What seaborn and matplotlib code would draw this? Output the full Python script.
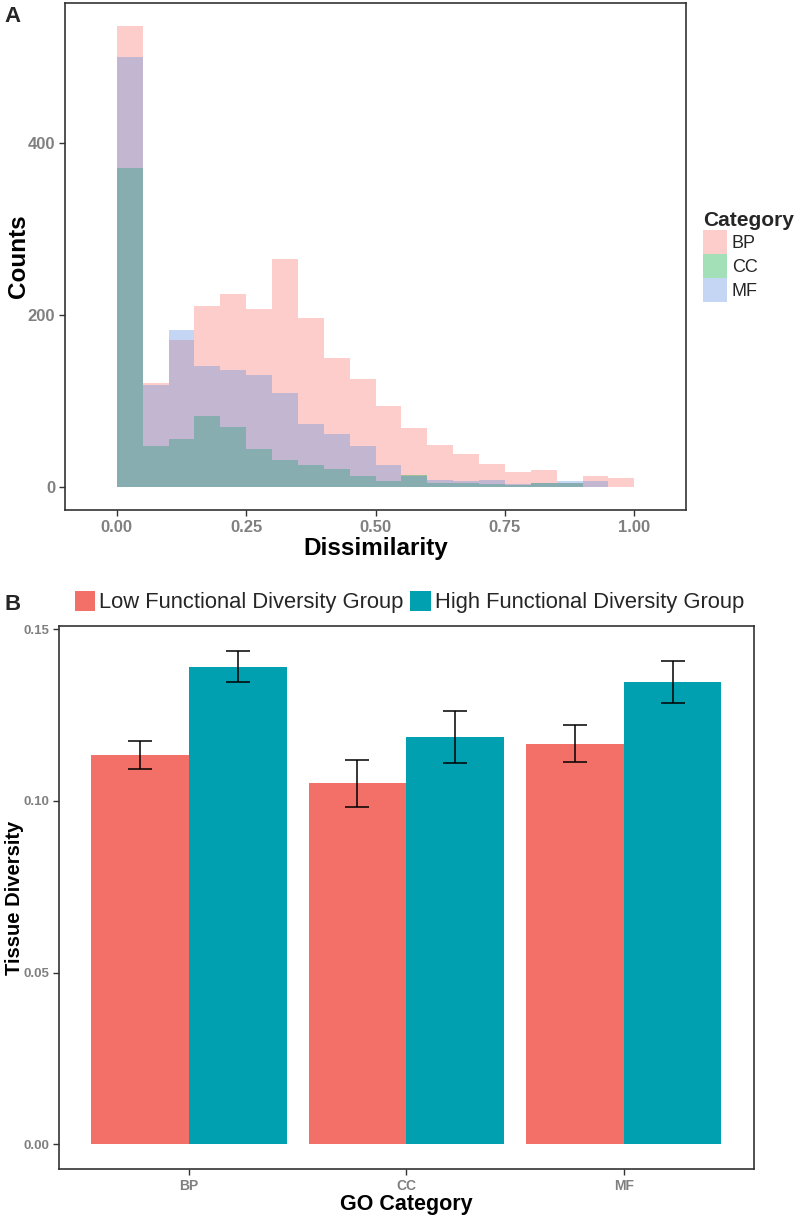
import numpy as np
import pandas as pd
import matplotlib
matplotlib.use("Agg")
import matplotlib.pyplot as plt
import seaborn as sns
from matplotlib.patches import Patch

# ---------------- Panel A data (histogram counts per bin) ----------------
bin_edges = [0.00, 0.05, 0.10, 0.15, 0.20, 0.25, 0.30, 0.35, 0.40, 0.45, 0.50,
             0.55, 0.60, 0.65, 0.70, 0.75, 0.80, 0.85, 0.90, 0.95, 1.00]
categories = ["BP", "CC", "MF"]
bp_counts = [536, 121, 171, 210, 224, 207, 265, 197, 150, 126, 94, 68, 49, 38, 26, 17, 20, 5, 13, 10]
cc_counts = [371, 48, 56, 82, 70, 44, 31, 25, 21, 12, 7, 14, 5, 5, 3, 2, 5, 5, 0, 0]
mf_counts = [500, 118, 182, 140, 136, 130, 109, 73, 61, 47, 25, 13, 8, 7, 8, 3, 5, 7, 7, 0]
hist_xticks = [0.00, 0.25, 0.50, 0.75, 1.00]
hist_xticklabels = ["0.00", "0.25", "0.50", "0.75", "1.00"]
hist_yticks = [0, 200, 400]

# ---------------- Panel B data ----------------
go_categories = ["BP", "CC", "MF"]
groups = ["Low Functional Diversity Group", "High Functional Diversity Group"]
low_mean = [0.1133, 0.1051, 0.1166]
high_mean = [0.1391, 0.1185, 0.1346]
low_se = [0.0040, 0.0068, 0.0054]
high_se = [0.0044, 0.0076, 0.0060]
bar_yticks = [0.00, 0.05, 0.10, 0.15]
bar_yticklabels = ["0.00", "0.05", "0.10", "0.15"]

hist_colors = ["#F8766D", "#00A838", "#5E8FE0"]
bar_colors = ["#F27068", "#00A0B0"]
ALPHA = 0.36

sns.set_theme(style="white")
plt.rcParams['font.family'] = ['Liberation Sans', 'DejaVu Sans']

W, H = 800, 1216
fig = plt.figure(figsize=(W / 100, H / 100), dpi=100)
fig.patch.set_facecolor("white")

ax1 = fig.add_axes([65 / W, 1 - 510 / H, 621 / W, 507 / H])
ax2 = fig.add_axes([58.7 / W, 1 - 1169 / H, 695.3 / W, 543 / H])

# ---- Panel A histogram ----
edges = np.array(bin_edges)
centers = (edges[:-1] + edges[1:]) / 2
for cat, counts, col in zip(categories, [bp_counts, cc_counts, mf_counts], hist_colors):
    sns.histplot(x=centers, weights=counts, bins=bin_edges, color=col, alpha=ALPHA,
                 linewidth=0, edgecolor="none", ax=ax1)

ax1.set_xlim(-0.1, 1.1)
ax1.set_ylim(-27, 563)
ax1.set_xticks(hist_xticks, hist_xticklabels, fontweight="bold")
ax1.set_yticks(hist_yticks, [str(v) for v in hist_yticks], fontweight="bold")
ax1.tick_params(axis="both", length=4, width=1, color="#333333", labelsize=12,
                labelcolor="#808080", pad=3, left=True, bottom=True)
ax1.set_xlabel("Dissimilarity", fontsize=17.5, fontweight="bold", color="black", labelpad=2)
ax1.set_ylabel("Counts", fontsize=17.5, fontweight="bold", color="black")
ax1.yaxis.set_label_coords((30 - 65) / 621, 0.5)
for sp in ax1.spines.values():
    sp.set_visible(True)
    sp.set_color("#333333")
    sp.set_linewidth(1.2)

handles1 = [Patch(facecolor=c, alpha=ALPHA, edgecolor="none") for c in hist_colors]
fig.legend(handles1, categories, title="Category", loc="upper left",
           bbox_to_anchor=(703 / W, 1 - 211 / H), frameon=False, fontsize=13,
           title_fontproperties={"weight": "bold", "size": 15},
           handlelength=1.35, handleheight=1.67, labelspacing=0.0,
           handletextpad=0.25, borderpad=0, borderaxespad=0, alignment="left")

# ---- Panel B bars ----
bar_df = pd.DataFrame({
    "GO": go_categories * 2,
    "Group": [groups[0]] * 3 + [groups[1]] * 3,
    "value": low_mean + high_mean,
})
sns.barplot(data=bar_df, x="GO", y="value", hue="Group", order=go_categories,
            hue_order=groups, palette=bar_colors, errorbar=None, linewidth=0,
            saturation=1, width=0.9, legend=False, ax=ax2)
for container, means, ses in zip(ax2.containers, [low_mean, high_mean], [low_se, high_se]):
    xs = [b.get_x() + b.get_width() / 2 for b in container]
    ax2.errorbar(xs, means, yerr=ses, fmt="none", ecolor="black", elinewidth=1.1,
                 capsize=8.5, capthick=1.1, zorder=5)

ax2.set_xlim(-0.6, 2.6)
ax2.set_ylim(-0.0072, 0.1509)
ax2.set_yticks(bar_yticks, bar_yticklabels, fontweight="bold")
ax2.set_xticks(range(len(go_categories)), go_categories, fontweight="bold")
ax2.tick_params(axis="both", length=4, width=1, color="#333333", labelsize=10,
                labelcolor="#808080", pad=3, left=True, bottom=True)
ax2.tick_params(axis="y", labelsize=9.5)
ax2.set_xlabel("GO Category", fontsize=15.5, fontweight="bold", color="black", labelpad=1)
ax2.set_ylabel("Tissue Diversity", fontsize=14.5, fontweight="bold", color="black")
ax2.yaxis.set_label_coords((24 - 58.7) / 695.3, 0.5)
for sp in ax2.spines.values():
    sp.set_visible(True)
    sp.set_color("#333333")
    sp.set_linewidth(1.2)

handles2 = [Patch(facecolor=c, edgecolor="none") for c in bar_colors]
fig.legend(handles2, groups, loc="center left", bbox_to_anchor=(75 / W, 1 - 602 / H),
           ncol=2, frameon=False, fontsize=15.8, handlelength=0.92, handleheight=1.02,
           handletextpad=0.19, columnspacing=0.3, borderpad=0, borderaxespad=0)

fig.text(4 / W, 1 - 16 / H, "A", fontsize=16, fontweight="bold", va="center", ha="left")
fig.text(4 / W, 1 - 605 / H, "B", fontsize=16, fontweight="bold", va="center", ha="left")

fig.savefig("out.png", dpi=100)
